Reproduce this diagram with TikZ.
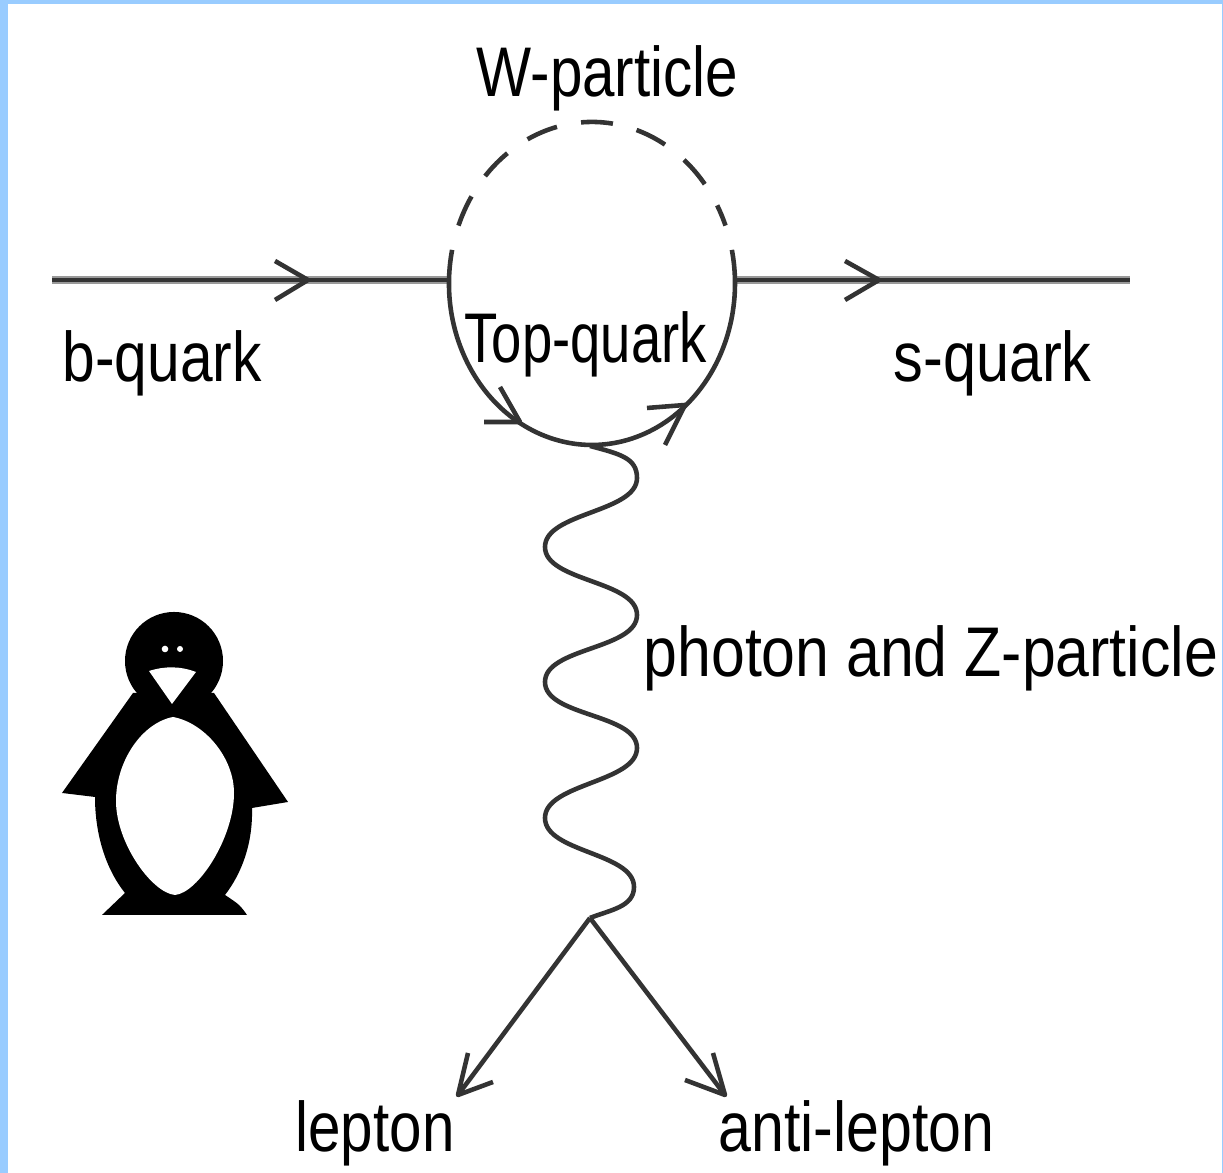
\documentclass[tikz,border=0pt]{standalone}
\usepackage{fontspec}
\setmainfont{Liberation Sans}
\usetikzlibrary{calc}
\definecolor{frameBlue}{HTML}{99CCFF}
\definecolor{lineGray}{HTML}{333333}
\newcommand{\lineWidth}{1.3pt}
\newcommand{\drawBarb}[3]{
    \draw[particle] (#1) +(#2) -- (#1) -- +(#3);
}
\tikzset{particle/.style = {lineGray, line width=\lineWidth, line join=round}}
\tikzset{halo/.style = {black!40, line width=.08cm}}
\tikzset{label/.style = {anchor=base west, inner sep=0pt, font=\fontsize{20pt}{24pt}\selectfont, transform shape}}

\begin{document}
\begin{tikzpicture}
    \def\rx{1.43}
    \def\ry{1.615}

    % frame
    \useasboundingbox (0,0) rectangle (12.23,11.73);
    \fill[frameBlue] (0,0) rectangle (12.23,11.73);
    \fill[white] (0.08,0) rectangle (12.22,11.69);

    \coordinate (C) at (5.92,8.895);

    % incoming and outgoing quark lines
    \coordinate (bStart) at (0.52,8.93);
    \coordinate (bTip) at (3.08,8.93);
    \coordinate (bEnd) at (4.49,8.93);
    \coordinate (sStart) at (7.35,8.93);
    \coordinate (sTip) at (8.79,8.93);
    \coordinate (sEnd) at (11.30,8.93);
    \foreach \p/\q in {bStart/bEnd, sStart/sEnd}
    {
        \draw[halo] (\p) -- (\q);
        \draw[particle] (\p) -- (\q);
    }
    \drawBarb{bTip}{-.33,.19}{-.33,-.20}
    \drawBarb{sTip}{-.34,.19}{-.34,-.20}

    % loop: dashed W on top, solid top quark below
    \draw[particle, dash pattern=on .32cm off .245cm] ($(C)+(159:\rx cm and \ry cm)$)
        arc[start angle=159, end angle=21, x radius=\rx, y radius=\ry];
    \draw[particle] ($(C)+(168:\rx cm and \ry cm)$)
        arc[start angle=168, end angle=372, x radius=\rx, y radius=\ry];
    \coordinate (tTipL) at (5.20,7.51);
    \coordinate (tTipR) at (6.85,7.68);
    \drawBarb{tTipL}{-.36,0}{-.20,.35}
    \drawBarb{tTipR}{-.38,-.03}{-.20,-.40}

    % wavy line down to the lepton vertex
    \coordinate (V) at (5.90,2.55);
    \coordinate (W0) at (5.90,7.27);
    \draw[particle] (W0) .. controls +(.30,-.08) and +(0,.20) .. (6.37,6.95)
        .. controls +(0,-.345) and +(0,.345) .. (5.45,6.26)
        .. controls +(0,-.345) and +(0,.345) .. (6.37,5.58)
        .. controls +(0,-.345) and +(0,.345) .. (5.45,4.91)
        .. controls +(0,-.345) and +(0,.345) .. (6.37,4.25)
        .. controls +(0,-.345) and +(0,.345) .. (5.45,3.55)
        .. controls +(0,-.345) and +(0,.345) .. (6.34,2.86)
        .. controls +(0,-.20) and +(.20,.08) .. (V);

    \coordinate (lTip) at (4.58,0.78);
    \coordinate (aTip) at (7.25,0.78);
    \draw[particle] (V) -- (lTip);
    \draw[particle] (V) -- (aTip);
    \drawBarb{lTip}{.10,.42}{.35,.13}
    \drawBarb{aTip}{-.12,.42}{-.40,.15}

    % penguin
    \fill[black] (1.74,5.12) circle (0.49);
    \fill[black] (1.33,4.80) -- (0.62,3.80) -- (0.95,3.76)
        .. controls (0.95,3.40) and (1.05,3.05) .. (1.25,2.80)
        -- (1.02,2.58) -- (2.47,2.58)
        .. controls (2.40,2.68) .. (2.25,2.78)
        .. controls (2.42,3.00) and (2.53,3.30) .. (2.52,3.65)
        -- (2.88,3.71) -- (2.14,4.80) -- cycle;
    \fill[white] (1.73,4.56)
        .. controls (2.05,4.50) and (2.34,4.15) .. (2.34,3.80)
        .. controls (2.34,3.35) and (1.98,2.80) .. (1.75,2.78)
        .. controls (1.52,2.80) and (1.16,3.30) .. (1.16,3.72)
        .. controls (1.16,4.12) and (1.42,4.50) .. (1.73,4.56);
    \fill[white] (1.49,5.02) .. controls (1.65,5.07) and (1.80,5.07) .. (1.96,5.01)
        -- (1.72,4.69) -- cycle;
    \fill[white] (1.65,5.24) circle (0.033);
    \fill[white] (1.80,5.24) circle (0.03);

    % labels
    \node[label, xscale=.83] (wLabel) at (4.76,10.76) {W-particle};
    \node[label, xscale=.835] (bLabel) at (0.62,7.915) {b-quark};
    \node[label, xscale=.775] (tLabel) at (4.64,8.10) {Top-quark};
    \node[label, xscale=.845] (sLabel) at (8.93,7.915) {s-quark};
    \node[label, xscale=.865] (zLabel) at (6.43,4.96) {photon and Z-particle};
    \node[label, xscale=.83] (lLabel) at (2.95,0.215) {lepton};
    \node[label, xscale=.84] (aLabel) at (7.18,0.215) {anti-lepton};
\end{tikzpicture}
\end{document}
